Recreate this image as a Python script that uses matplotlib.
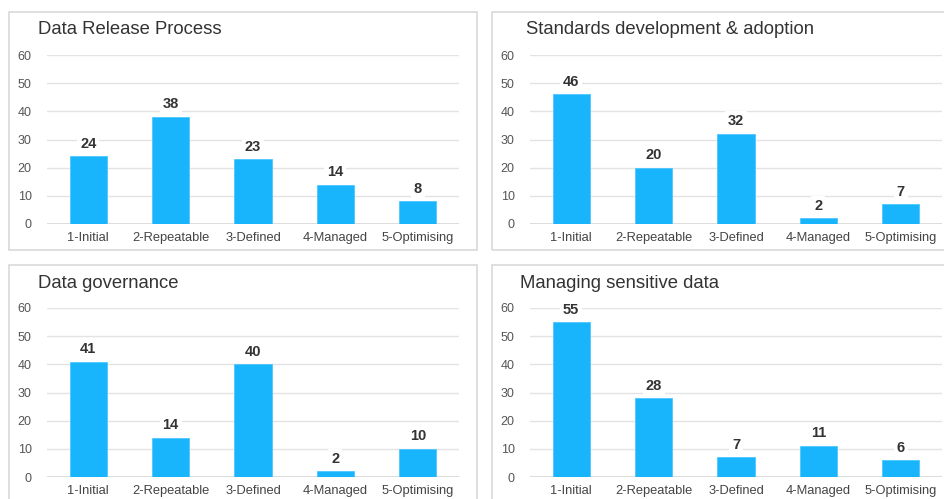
import matplotlib
matplotlib.use("Agg")
import matplotlib.pyplot as plt
from matplotlib.patches import Rectangle

plt.rcParams['font.family'] = ['Liberation Sans', 'DejaVu Sans']

categories = ["1-Initial", "2-Repeatable", "3-Defined", "4-Managed", "5-Optimising"]
titles = ["Data Release Process", "Standards development & adoption",
          "Data governance", "Managing sensitive data"]
release_vals = [24, 38, 23, 14, 8]
standards_vals = [46, 20, 32, 2, 7]
governance_vals = [41, 14, 40, 2, 10]
sensitive_vals = [55, 28, 7, 11, 6]
yticks = [0, 10, 20, 30, 40, 50, 60]

W, H = 945, 499
fig = plt.figure(figsize=(W / 100, H / 100), dpi=100)

def fx(px):
    return px / W

def fy(py):
    return 1 - py / H

# panel boxes (pixel coords: left, top, right, bottom)
boxes = [(9, 12, 477, 250), (492, 12, 946, 250), (9, 265, 477, 501), (492, 265, 946, 501)]
for l, t, r, b in boxes:
    fig.patches.append(Rectangle((fx(l), fy(b)), fx(r - l), fy(t) - fy(b),
                                 transform=fig.transFigure, fill=False,
                                 edgecolor='#d9d9d9', linewidth=1.2, zorder=0))

# axes placements (pixel coords: left, top, right, bottom)
axes_px = [(47, 55, 459, 224), (530, 55, 942, 224), (47, 308, 459, 477), (530, 308, 942, 477)]
title_px = [(38, 30), (526, 30), (38, 283), (520, 283)]
series = [release_vals, standards_vals, governance_vals, sensitive_vals]

bar_color = '#19B5FC'
for (l, t, r, b), (tx, ty), title, vals in zip(axes_px, title_px, titles, series):
    ax = fig.add_axes([fx(l), fy(b), fx(r - l), fy(t) - fy(b)])
    x = list(range(len(categories)))
    ax.bar(x, vals, width=0.45, color=bar_color, edgecolor='#4cc6ff', linewidth=0.6, zorder=2)
    ax.set_xlim(-0.5, len(categories) - 0.5)
    ax.set_ylim(0, 60)
    ax.set_yticks(yticks)
    ax.set_xticks(x)
    ax.set_xticklabels(categories, fontsize=9.3, color='#444444')
    ax.tick_params(axis='y', labelsize=9, colors='#555555', length=0, pad=11)
    ax.tick_params(axis='x', length=0, pad=6)
    for s in ax.spines.values():
        s.set_visible(False)
    ax.grid(axis='y', color='#e3e3e3', linewidth=1, zorder=0)
    ax.axhline(0, color='#d8d8d8', linewidth=1.2, zorder=1)
    ax.set_axisbelow(True)
    for xi, v in zip(x, vals):
        ax.annotate(str(v), (xi, v), xytext=(0, 4), textcoords='offset points',
                    ha='center', va='bottom', fontsize=10.5, fontweight='bold', color='#333333',
                    bbox=dict(boxstyle='square,pad=0.2', facecolor='white', edgecolor='none'),
                    zorder=3)
    fig.text(fx(tx), fy(ty), title, fontsize=13.3, color='#333333', va='center', ha='left')

fig.savefig("out.png", dpi=100)
